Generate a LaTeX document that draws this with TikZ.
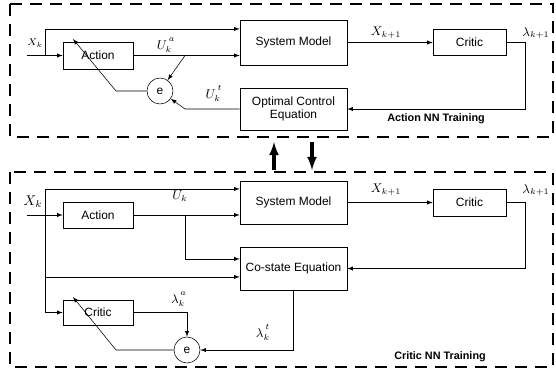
\documentclass[tikz,border=0pt]{standalone}
\usepackage{amsmath}
\usepackage{fontspec}
\setmainfont{Liberation Sans}
\usetikzlibrary{arrows}

\newcommand{\upidx}[1]{\raisebox{2pt}{$\scriptstyle\,#1$}}

\tikzset{
    block/.style={draw, font=\fontsize{8.5}{9.5}\selectfont, align=center, inner sep=1pt},
    errnode/.style={draw, circle, minimum size=0.65cm, inner sep=0pt, font=\fontsize{8.5}{9.5}\selectfont},
    lbl/.style={font=\small},
    title/.style={font=\fontsize{7.7}{8.5}\selectfont\bfseries},
    panel/.style={line width=1.1pt, dash pattern=on 0.3cm off 0.2cm},
    swap/.style={line width=2.2pt, -latex}
}

\begin{document}
\begin{tikzpicture}[x=0.025cm, y=-0.025cm, >=latex]
    \useasboundingbox (0,0) rectangle (556,369);
    % panels
    \draw[panel] (10,4) rectangle (553,137);
    \draw[panel] (10,172) rectangle (553,367);
    \node[title] (tact) at (436,119) {Action NN Training};
    \node[title] (tcri) at (440,357) {Critic NN Training};
    % switching arrows
    \coordinate (up0) at (274,170);
    \coordinate (up1) at (274,142);
    \coordinate (dn0) at (312,142);
    \coordinate (dn1) at (312,170);
    \draw[swap] (up0) -- (up1);
    \draw[swap] (dn0) -- (dn1);

    % action training
    \node[block, minimum width=1.75cm, minimum height=0.675cm] (act1) at (98,55.5) {Action};
    \node[block, minimum width=2.675cm, minimum height=1.125cm] (sys1) at (293.5,42.5) {System Model};
    \node[block, minimum width=2.675cm, minimum height=1.05cm] (oce1) at (293.5,109) {Optimal Control\\Equation};
    \node[block, minimum width=1.825cm, minimum height=0.65cm] (cri1) at (469.5,42.5) {Critic};
    \node[errnode] (e1) at (160,91) {e};
    \coordinate (in1) at (27,55.5);
    \coordinate (br1) at (45,55.5);
    \coordinate (ub1) at (185,55.5);
    \coordinate (ut1) at (185,109);
    \coordinate (fb1) at (116,91);
    \coordinate (tip1) at (73,39);
    \coordinate (cr1) at (525,42.5);
    \draw[->] (in1) -- (act1.west);
    \draw[->] (br1) |- ([yshift=0.34cm]sys1.west);
    \draw[->] (act1.east) -- (act1.east -| sys1.west);
    \draw[->] (ub1) -- (e1);
    \draw[->] (oce1.west) -- (ut1) -- (e1);
    \draw[->] (e1.west) -- (fb1) -- (tip1);
    \draw[->] (sys1.east) -- (cri1.west);
    \draw[->] (cri1.east) -- (cr1) |- (oce1.east);
    \node[lbl, font=\scriptsize] (xk1) at (35,43) {$X_k$};
    \node[lbl] (ua1) at (166,45) {$U_k^{\upidx{a}}$};
    \node[lbl] (ut1l) at (214,93) {$U_k^{\upidx{t}}$};
    \node[lbl] (xn1) at (386,33) {$X_{k+1}$};
    \node[lbl] (ln1) at (536,33) {$\lambda_{k+1}$};

    % critic training
    \node[block, minimum width=1.75cm, minimum height=0.65cm] (act2) at (98,215) {Action};
    \node[block, minimum width=2.675cm, minimum height=1.075cm] (sys2) at (293.5,202.5) {System Model};
    \node[block, minimum width=2.675cm, minimum height=1.075cm] (cos2) at (293.5,268.5) {Co-state Equation};
    \node[block, minimum width=1.825cm, minimum height=0.675cm] (cri2) at (469.5,202.5) {Critic};
    \node[block, minimum width=1.75cm, minimum height=0.625cm] (crb2) at (98,312.5) {Critic};
    \node[errnode] (e2) at (187,350) {e};
    \coordinate (in2) at (27,215);
    \coordinate (br2) at (45,215);
    \coordinate (ub2) at (185,215);
    \coordinate (fb2) at (116,350);
    \coordinate (tip2) at (73,297);
    \coordinate (cr2) at (525,202.5);
    \draw[->] (in2) -- (act2.west);
    \draw[->] (br2) |- ([yshift=0.34cm]sys2.west);
    \draw[->] (br2) |- ([yshift=-0.21cm]cos2.west);
    \draw[->] (br2) |- (crb2.west);
    \draw[->] (act2.east) -- (act2.east -| sys2.west);
    \draw[->] (ub2) |- ([yshift=0.24cm]cos2.west);
    \draw[->] (sys2.east) -- (cri2.west);
    \draw[->] (cri2.east) -- (cr2) |- (cos2.east);
    \draw[->] (crb2.east) -| (e2.north);
    \draw[->] (cos2.south) |- (e2.east);
    \draw[->] (e2.west) -- (fb2) -- (tip2);
    \node[lbl, font=\normalsize] (xk2) at (33,202) {$X_k$};
    \node[lbl] (uk2) at (180,196) {$U_k$};
    \node[lbl] (la2) at (179,299) {$\lambda_k^{\upidx{a}}$};
    \node[lbl] (lt2) at (263,332) {$\lambda_k^{\upidx{t}}$};
    \node[lbl] (xn2) at (386,190) {$X_{k+1}$};
    \node[lbl] (ln2) at (536,190) {$\lambda_{k+1}$};
\end{tikzpicture}
\end{document}
